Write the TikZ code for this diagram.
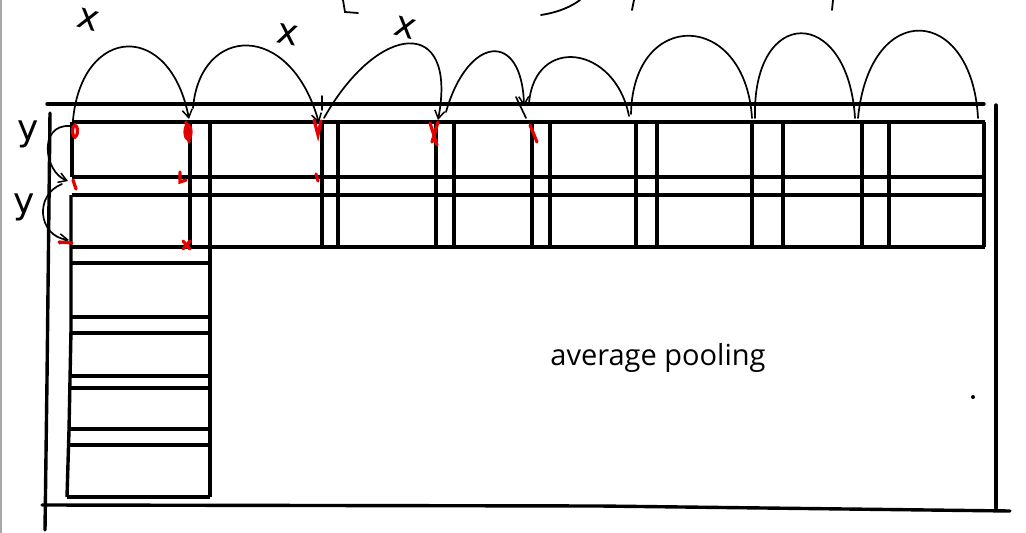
\documentclass[tikz,border=0pt]{standalone}
\usepackage{fontspec}
\newfontfamily\labelfont{Open Sans}
\newfontfamily\handfont{DejaVu Sans}
\usetikzlibrary{arrows.meta}
\tikzset{
  frame/.style={line width=3.4pt, line cap=round},
  grid/.style={line width=3.4pt},
  hop/.style={line width=1.7pt, line cap=round},
  hoparrow/.style={hop, -{Straight Barb[length=8pt,width=10pt,line width=1.5pt]}},
  redmark/.style={red!90!black, line width=3.2pt, line cap=round},
  hand/.style={font=\handfont\fontsize{36}{36}\selectfont, inner sep=0pt},
  scrib/.style={line width=1.8pt, line cap=round}
}
\begin{document}
\begin{tikzpicture}[x=1pt,y=-1pt]
\useasboundingbox (0,0) rectangle (1026,533);
% left grey border of the canvas
\draw[gray!70, line width=1.5pt] (1,0) -- (1,533);

% frame
\coordinate (tl) at (47,104);
\coordinate (tr) at (984,104);
\draw[frame] (tl) -- (tr);
\draw[frame] (50,113) -- (47,380) -- (45,530);
\draw[frame] (42,505) -- (600,506) -- (1010,511);
\draw[frame] (996,105) -- (996,508);
\fill (973,397) circle (2pt);

% top row of windows
\foreach \y in {122,177,195,247}{
  \draw[grid] (72,\y) -- (985,\y);
}
\draw[grid] (72,122) -- (72,177);
\foreach \x in {190,322,338,436,454,532,550,636,657,752,783,862,889,984}{
  \draw[grid] (\x,122) -- (\x,247);
}
% left column
\draw[grid] (71,195) -- (71,330) -- (69,430) -- (67,497);
\draw[grid] (210,122) -- (210,497);
\foreach \y in {263,317,333,376,388,429,445}{
  \draw[grid] (70,\y) -- (210,\y);
}
\draw[grid] (67,497) -- (210,497);

% hop points
\coordinate (h0) at (73,120);
\coordinate (h1) at (189,119);
\coordinate (h1b) at (193,108);
\coordinate (h2) at (319,123);
\coordinate (h2b) at (324,118);
\coordinate (h3) at (438,120);
\coordinate (h3b) at (446,112);
\coordinate (h4) at (524,106);
\coordinate (h4b) at (529,103);
\coordinate (h5) at (629,116);
\coordinate (h5b) at (631,114);
\coordinate (h6) at (752,118);
\coordinate (h6b) at (755,118);
\coordinate (h7) at (855,118);
\coordinate (h7b) at (858,118);
\coordinate (h8) at (978,118);

\draw[hoparrow] (h0) .. controls (82,25) and (170,20) .. (h1);
\draw[hoparrow] (h1b) .. controls (200,25) and (290,20) .. (h2);
\draw[hoparrow] (h2b) .. controls (378,22) and (458,15) .. (h3);
\draw[hoparrow] (h3b) .. controls (468,35) and (522,30) .. (h4);
\draw[hop] (h4b) .. controls (535,35) and (615,45) .. (h5);
\draw[hop] (h5b) .. controls (633,8) and (745,10) .. (h6);
\draw[hop] (h6b) .. controls (752,5) and (848,5) .. (h7);
\draw[hop] (h7b) .. controls (870,-2) and (972,5) .. (h8);
\draw[hop] (322,96) -- (322,110);
\draw[hop] (516,97) -- (526,118);

% left y-hops
\coordinate (v0) at (70,126);
\coordinate (v1) at (68,181);
\coordinate (v1b) at (62,184);
\coordinate (v2) at (69,240);
\draw[hoparrow] (v0) .. controls (38,124) and (44,172) .. (v1);
\draw[hoparrow] (v1b) .. controls (34,195) and (38,236) .. (v2);

% red marks
\draw[redmark] (75,131) ellipse (2.4pt and 6pt);
\draw[redmark] (186,122) -- (189,142);
\draw[redmark] (188,132) ellipse (3pt and 7pt);
\draw[redmark] (73,180) -- (76,189);
\draw[redmark] (180,172) -- (180,182) -- (186,180);
\draw[redmark] (59,242) -- (72,243);
\draw[redmark] (183,241) -- (190,249);
\draw[redmark] (183,249) -- (190,241);
\draw[redmark] (314,120) -- (318,135) -- (321,121);
\draw[redmark] (316,174) -- (318,181);
\draw[redmark] (430,123) -- (437,145);
\draw[redmark] (438,122) -- (432,142);
\draw[redmark] (530,125) -- (537,142);

% handwritten labels
\node[hand, rotate=-15] (lx1) at (88,20) {x};
\node[hand, rotate=-10] (lx2) at (288,35) {x};
\node[hand, rotate=-15] (lx3) at (405,28) {x};
\node[hand] (ly1) at (28,134) {y};
\node[hand] (ly2) at (24,207) {y};

% cropped scribbles at the top edge
\draw[scrib] (343,0) -- (345,12) -- (358,13);
\draw[scrib] (541,15) .. controls (560,12) and (572,6) .. (580,0);
\draw[scrib] (634,0) -- (632,10);
\draw[scrib] (833,0) -- (832,10);

% text
\node[font=\labelfont\fontsize{29}{31}\selectfont, anchor=base, inner sep=0pt] (avg) at (658,365) {average pooling};
\end{tikzpicture}
\end{document}
